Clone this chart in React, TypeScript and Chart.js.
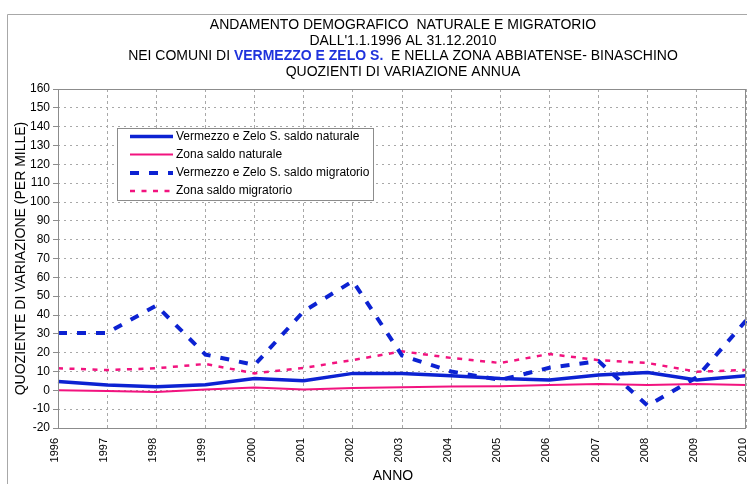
import React, { useEffect, useRef } from "react";
import { Chart, registerables } from "chart.js";

Chart.register(...registerables);

const years = ["1996", "1997", "1998", "1999", "2000", "2001", "2002", "2003", "2004", "2005", "2006", "2007", "2008", "2009", "2010"];
const vermezzoNaturale = [4.7, 2.8, 1.9, 3.0, 6.3, 5.1, 9.0, 9.0, 7.8, 6.3, 5.5, 8.1, 9.5, 5.5, 7.8];
const zonaNaturale = [0, -0.4, -0.9, 0.5, 1.5, 0.4, 1.3, 1.7, 2.1, 2.2, 2.8, 3.3, 2.8, 3.4, 2.8];
const vermezzoMigratorio = [30.5, 30.5, 45, 19, 13.5, 42, 58, 18.5, 10, 5.5, 12, 15.5, -8.2, 7, 37];
const zonaMigratorio = [11.7, 10.8, 11.7, 14, 9, 11.9, 16.1, 20.7, 17.2, 14.5, 19.3, 16, 14.5, 9.9, 10.8];

const seriesLabels = [
  "Vermezzo e Zelo S. saldo naturale",
  "Zona saldo naturale",
  "Vermezzo e Zelo S. saldo migratorio",
  "Zona saldo migratorio",
];

const titleLine1 = "ANDAMENTO DEMOGRAFICO  NATURALE E MIGRATORIO";
const titleLine2 = "DALL'1.1.1996 AL 31.12.2010";
const titleLine3a = "NEI COMUNI DI ";
const titleLine3b = "VERMEZZO E ZELO S.";
const titleLine3c = "  E NELLA ZONA ABBIATENSE- BINASCHINO";
const titleLine4 = "QUOZIENTI DI VARIAZIONE ANNUA";
const yAxisTitle = "QUOZIENTE DI VARIAZIONE (PER MILLE)";
const xAxisTitle = "ANNO";

const FONT = "'Liberation Sans', Arial, Helvetica, sans-serif";
const BLUE = "#0c22d2";
const PINK = "#f2137f";

const decorPlugin = {
  id: "decor",
  beforeDraw(chart: any) {
    const ctx = chart.ctx as CanvasRenderingContext2D;
    const W = chart.width;
    const H = chart.height;
    ctx.save();
    ctx.fillStyle = "#ffffff";
    ctx.fillRect(0, 0, W, H);
    // outer frame
    ctx.strokeStyle = "#a8a8a8";
    ctx.lineWidth = 1;
    ctx.beginPath();
    ctx.moveTo(7.5, H);
    ctx.lineTo(7.5, 14.5);
    ctx.lineTo(W, 14.5);
    ctx.stroke();

    // title
    const cx = 403;
    ctx.fillStyle = "#000";
    ctx.textAlign = "center";
    ctx.textBaseline = "alphabetic";
    ctx.font = `14px ${FONT}`;
    ctx.fillText(titleLine1, cx, 29);
    ctx.fillText(titleLine2, cx, 44.5);
    ctx.fillText(titleLine4, cx, 75.5);
    // mixed line
    ctx.textAlign = "left";
    const normal = `14px ${FONT}`;
    const bold = `bold 14px ${FONT}`;
    ctx.font = normal;
    const wa = ctx.measureText(titleLine3a).width;
    const wc = ctx.measureText(titleLine3c).width;
    ctx.font = bold;
    const wb = ctx.measureText(titleLine3b).width;
    let x = cx - (wa + wb + wc) / 2;
    ctx.font = normal;
    ctx.fillStyle = "#000";
    ctx.fillText(titleLine3a, x, 60);
    x += wa;
    ctx.font = bold;
    ctx.fillStyle = "#1f33dc";
    ctx.fillText(titleLine3b, x, 60);
    x += wb;
    ctx.font = normal;
    ctx.fillStyle = "#000";
    ctx.fillText(titleLine3c, x, 60);
    ctx.restore();
  },
  afterDatasetsDraw(chart: any) {
    const ctx = chart.ctx as CanvasRenderingContext2D;
    const a = chart.chartArea;
    ctx.save();
    ctx.strokeStyle = "#8c8c8c";
    ctx.lineWidth = 1;
    ctx.strokeRect(a.left + 0.5, a.top + 0.5, a.right - a.left - 1, a.bottom - a.top);
    ctx.restore();
  },
  afterDraw(chart: any) {
    const ctx = chart.ctx as CanvasRenderingContext2D;
    ctx.save();
    // x axis title
    ctx.fillStyle = "#000";
    ctx.font = `14px ${FONT}`;
    ctx.textAlign = "center";
    ctx.textBaseline = "middle";
    ctx.fillText(xAxisTitle, 393, 476);

    // legend
    const bx = 117.5, by = 128.5, bw = 256, bh = 72;
    ctx.fillStyle = "#ffffff";
    ctx.fillRect(bx, by, bw, bh);
    ctx.strokeStyle = "#8c8c8c";
    ctx.lineWidth = 1;
    ctx.strokeRect(bx, by, bw, bh);
    const rows = [136.5, 154.5, 173, 191];
    chart.data.datasets.forEach((ds: any, i: number) => {
      const y = rows[i];
      ctx.save();
      ctx.strokeStyle = ds.borderColor;
      ctx.lineWidth = ds.borderWidth;
      ctx.setLineDash(ds.borderDash || []);
      ctx.lineCap = "butt";
      ctx.beginPath();
      ctx.moveTo(130, y);
      ctx.lineTo(173, y);
      ctx.stroke();
      ctx.restore();
      ctx.fillStyle = "#000";
      ctx.font = `12px ${FONT}`;
      ctx.textAlign = "left";
      ctx.textBaseline = "middle";
      ctx.fillText(ds.label, 176, y);
    });
    ctx.restore();
  },
};

export default function App() {
  const ref = useRef<HTMLCanvasElement | null>(null);

  useEffect(() => {
    if (!ref.current) return;
    const chart = new Chart(ref.current, {
      type: "line",
      data: {
        labels: years,
        datasets: [
          {
            label: seriesLabels[0],
            data: vermezzoNaturale,
            borderColor: BLUE,
            backgroundColor: BLUE,
            borderWidth: 3.5,
            borderDash: [],
            pointRadius: 0,
            tension: 0,
          },
          {
            label: seriesLabels[1],
            data: zonaNaturale,
            borderColor: PINK,
            backgroundColor: PINK,
            borderWidth: 2,
            borderDash: [],
            pointRadius: 0,
            tension: 0,
          },
          {
            label: seriesLabels[2],
            data: vermezzoMigratorio,
            borderColor: BLUE,
            backgroundColor: BLUE,
            borderWidth: 4,
            borderDash: [9, 10],
            pointRadius: 0,
            tension: 0,
          },
          {
            label: seriesLabels[3],
            data: zonaMigratorio,
            borderColor: PINK,
            backgroundColor: PINK,
            borderWidth: 2.5,
            borderDash: [5, 6.5],
            pointRadius: 0,
            tension: 0,
          },
        ],
      },
      options: {
        responsive: false,
        animation: false,
        devicePixelRatio: 1,
        layout: { padding: { left: 8, right: 1, top: 89, bottom: 0 } },
        plugins: {
          legend: { display: false },
          title: { display: false },
          tooltip: { enabled: false },
        },
        scales: {
          x: {
            type: "category",
            offset: false,
            grid: {
              color: "#a8a8a8",
              lineWidth: 1,
              tickLength: 8,
              tickColor: "rgba(0,0,0,0)",
            },
            border: { display: false, dash: [3, 3] },
            ticks: {
              autoSkip: false,
              maxRotation: 90,
              minRotation: 90,
              padding: 2,
              labelOffset: -3,
              color: "#000",
              font: { family: FONT, size: 11 },
            },
            afterFit: (s: any) => {
              s.height = 56;
              s.paddingLeft = 0;
              s.paddingRight = 0;
            },
          },
          y: {
            min: -20,
            max: 160,
            grid: {
              color: "#a8a8a8",
              lineWidth: 1,
              tickLength: 5,
              tickColor: "#8c8c8c",
            },
            border: { display: false, dash: [2, 4] },
            ticks: {
              stepSize: 10,
              padding: 3,
              color: "#000",
              font: { family: FONT, size: 12 },
            },
            title: {
              display: true,
              text: yAxisTitle,
              color: "#000",
              font: { family: FONT, size: 14 },
              padding: { top: 5, bottom: 4 },
            },
            afterFit: (s: any) => {
              s.width = 50;
            },
          },
        },
      },
      plugins: [decorPlugin],
    } as any);
    return () => chart.destroy();
  }, []);

  return (
    <div style={{ position: "absolute", left: 0, top: 0, width: 747, height: 484, background: "#fff" }}>
      <canvas ref={ref} width={747} height={484} style={{ display: "block" }} />
    </div>
  );
}
